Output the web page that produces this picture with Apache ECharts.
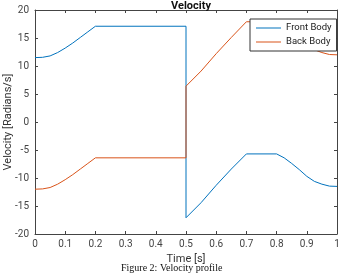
<!DOCTYPE html>
<html>
<head>
<meta charset="utf-8">
<script src="https://cdn.jsdelivr.net/npm/echarts@6/dist/echarts.min.js"></script>
<style>
  html, body { margin: 0; padding: 0; background: #fff; }
  #main { width: 343px; height: 274px; }
</style>
</head>
<body>
<div id="main"></div>
<script>
// time [s] and velocity [rad/s]
var frontBody = [
  [0, 11.5], [0.025, 11.55], [0.05, 11.8], [0.075, 12.4], [0.1, 13.2], [0.125, 14.1],
  [0.15, 15.1], [0.175, 16.1], [0.2, 17.1], [0.5, 17.1],
  [0.5, -17.1], [0.55, -14.4], [0.6, -11.3], [0.65, -8.4], [0.7, -5.7], [0.8, -5.7],
  [0.825, -6.4], [0.85, -7.4], [0.875, -8.5], [0.9, -9.7], [0.925, -10.6], [0.95, -11.1],
  [0.975, -11.45], [1.0, -11.5]
];
var backBody = [
  [0, -12.0], [0.025, -11.95], [0.05, -11.7], [0.075, -11.1], [0.1, -10.3], [0.125, -9.4],
  [0.15, -8.4], [0.175, -7.4], [0.2, -6.4], [0.5, -6.4],
  [0.5, 6.4], [0.55, 9.1], [0.6, 12.2], [0.65, 15.1], [0.7, 17.9], [0.8, 17.9],
  [0.825, 17.1], [0.85, 16.1], [0.875, 15.0], [0.9, 13.8], [0.925, 12.9], [0.95, 12.4],
  [0.975, 12.05], [1.0, 12.0]
];
var seriesNames = ['Front Body', 'Back Body'];

var myChart = echarts.init(document.getElementById('main'));

var axisCol = '#444';
var tickFont = { color: '#444', fontSize: 10, fontFamily: 'Roboto' };

option = {
  animation: false,
  title: {
    text: 'Velocity',
    left: 186, top: -4, textAlign: 'center',
    textStyle: { fontSize: 11, fontWeight: 'bold', color: '#111', fontFamily: 'Roboto' }
  },
  graphic: [{
    type: 'text', left: 121, top: 263,
    style: { text: 'Figure 2: Velocity profile', fontSize: 10, fontFamily: 'Liberation Serif', fill: '#111' }
  }, {
    // y-axis title, placed by hand so it sits clear of the tick labels
    type: 'text', x: 8, y: 122, rotation: Math.PI / 2,
    style: {
      text: 'Velocity [Radians/s]', fontSize: 11, fontFamily: 'Roboto', fill: '#333',
      align: 'center', verticalAlign: 'middle'
    }
  }],
  legend: {
    orient: 'vertical',
    left: 250, top: 19,
    data: seriesNames,
    icon: 'rect',
    itemWidth: 25, itemHeight: 1,
    itemGap: 4,
    padding: [4, 5, 4, 6],
    borderColor: '#333', borderWidth: 1,
    backgroundColor: '#fff',
    textStyle: { fontSize: 9.5, color: '#222', fontFamily: 'Roboto' }
  },
  grid: { left: 35, right: 6, top: 10, bottom: 40, containLabel: false, outerBoundsMode: 'none' },
  xAxis: [{
    type: 'value', min: 0, max: 1, interval: 0.1,
    name: 'Time [s]', nameLocation: 'middle', nameGap: 17,
    nameTextStyle: { fontSize: 11, color: '#333', fontFamily: 'Roboto' },
    axisLine: { onZero: false, lineStyle: { color: axisCol, width: 1 } },
    axisTick: { inside: true, length: 3, lineStyle: { color: axisCol } },
    axisLabel: Object.assign({ margin: 5, formatter: function (v) { return String(Math.round(v * 10) / 10); } }, tickFont),
    splitLine: { show: false }
  }, {
    type: 'value', min: 0, max: 1, interval: 0.1, position: 'top',
    axisLine: { show: true, onZero: false, lineStyle: { color: axisCol, width: 1 } },
    axisTick: { inside: true, length: 3, lineStyle: { color: axisCol } },
    axisLabel: { show: false }, splitLine: { show: false }
  }],
  yAxis: [{
    type: 'value', min: -20, max: 20, interval: 5,
    axisLine: { show: true, onZero: false, lineStyle: { color: axisCol, width: 1 } },
    axisTick: { show: true, inside: true, length: 3, lineStyle: { color: axisCol } },
    axisLabel: Object.assign({ margin: 6 }, tickFont),
    splitLine: { show: false }
  }, {
    type: 'value', min: -20, max: 20, interval: 5, position: 'right',
    axisLine: { show: true, onZero: false, lineStyle: { color: axisCol, width: 1 } },
    axisTick: { show: true, inside: true, length: 3, lineStyle: { color: axisCol } },
    axisLabel: { show: false }, splitLine: { show: false }
  }],
  series: [{
    name: seriesNames[0], type: 'line', data: frontBody,
    symbol: 'none', color: '#0072BD',
    lineStyle: { width: 1, color: '#0072BD' }
  }, {
    name: seriesNames[1], type: 'line', data: backBody,
    symbol: 'none', color: '#D95319',
    lineStyle: { width: 1, color: '#D95319' }
  }]
};

myChart.setOption(option);
</script>
</body>
</html>
